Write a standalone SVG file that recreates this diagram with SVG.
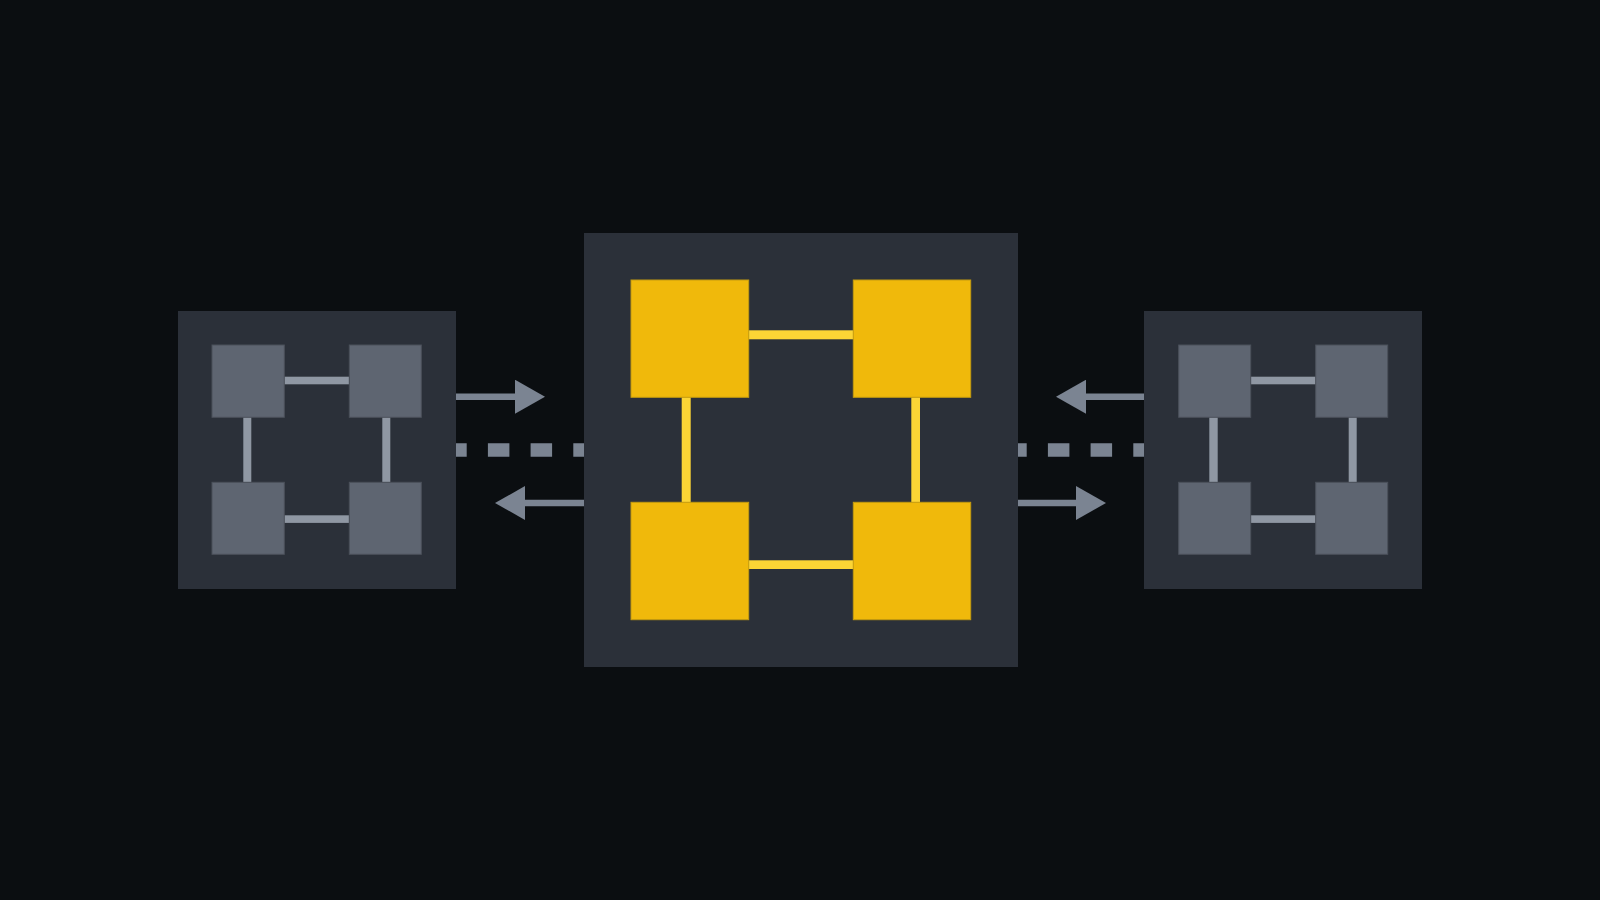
<svg xmlns="http://www.w3.org/2000/svg" width="1600" height="900" viewBox="0 0 1600 900">
<style>
.bg{fill:#0b0e11}
.panel{fill:#2b3039}
.gsq{fill:#5e6571;stroke:#4b515b;stroke-width:1}
.glink{fill:#8f97a3}
.ysq{fill:#f0b90b;stroke:#c49a10;stroke-width:1}
.ylink{fill:#fcd535}
.arrow{stroke:#7b8492;stroke-width:6.5;fill:none}
.dash{stroke:#7b8492;stroke-width:13.3;fill:none;stroke-dasharray:21.5 21.2}
</style>
<defs>
<marker id="head" viewBox="0 0 30 34" refX="0" refY="17" markerWidth="30" markerHeight="34" markerUnits="userSpaceOnUse" orient="auto">
<path d="M0,0 L30,17 L0,34 Z" fill="#7b8492"/>
</marker>
</defs>
<rect class="bg" x="0" y="0" width="1600" height="900"/>
<g id="connectors">
<line class="arrow" x1="456" y1="396.7" x2="515" y2="396.7" marker-end="url(#head)"/>
<line class="arrow" x1="584" y1="503" x2="525" y2="503" marker-end="url(#head)"/>
<line class="dash" x1="456" y1="450" x2="584" y2="450" stroke-dashoffset="10.8"/>
<line class="arrow" x1="1144" y1="396.7" x2="1086" y2="396.7" marker-end="url(#head)"/>
<line class="arrow" x1="1018" y1="503" x2="1076" y2="503" marker-end="url(#head)"/>
<line class="dash" x1="1018" y1="450" x2="1144" y2="450" stroke-dashoffset="12.8"/>
</g>
<g id="left-cluster">
<rect class="panel" x="178" y="311" width="278" height="278"/>
<rect class="glink" x="284" y="376.7" width="65" height="7.6"/>
<rect class="glink" x="284" y="515.3" width="65" height="7.6"/>
<rect class="glink" x="243.3" y="417" width="8" height="65.3"/>
<rect class="glink" x="382.3" y="417" width="8" height="65.3"/>
<rect class="gsq" x="212" y="345" width="72.3" height="72.3"/>
<rect class="gsq" x="349.3" y="345" width="72" height="72.3"/>
<rect class="gsq" x="212" y="482.3" width="72.3" height="72"/>
<rect class="gsq" x="349.3" y="482.3" width="72" height="72"/>
</g>
<g id="center-cluster">
<rect class="panel" x="584" y="233" width="434" height="434"/>
<rect class="ylink" x="748" y="330.3" width="106" height="9"/>
<rect class="ylink" x="748" y="560.3" width="106" height="8.7"/>
<rect class="ylink" x="681.7" y="397" width="9" height="106"/>
<rect class="ylink" x="911.3" y="397" width="8.7" height="106"/>
<rect class="ysq" x="631" y="280" width="117.7" height="117.3"/>
<rect class="ysq" x="853.3" y="280" width="117.4" height="117.3"/>
<rect class="ysq" x="631" y="502.3" width="117.7" height="117.4"/>
<rect class="ysq" x="853.3" y="502.3" width="117.4" height="117.4"/>
</g>
<g id="right-cluster">
<rect class="panel" x="1144" y="311" width="278" height="278"/>
<rect class="glink" x="1250.7" y="376.7" width="65" height="7.6"/>
<rect class="glink" x="1250.7" y="515.3" width="65" height="7.6"/>
<rect class="glink" x="1209.3" y="417" width="8.4" height="65.3"/>
<rect class="glink" x="1348.7" y="417" width="8" height="65.3"/>
<rect class="gsq" x="1178.7" y="345" width="72" height="72.3"/>
<rect class="gsq" x="1315.7" y="345" width="72" height="72.3"/>
<rect class="gsq" x="1178.7" y="482.3" width="72" height="72"/>
<rect class="gsq" x="1315.7" y="482.3" width="72" height="72"/>
</g>
</svg>
